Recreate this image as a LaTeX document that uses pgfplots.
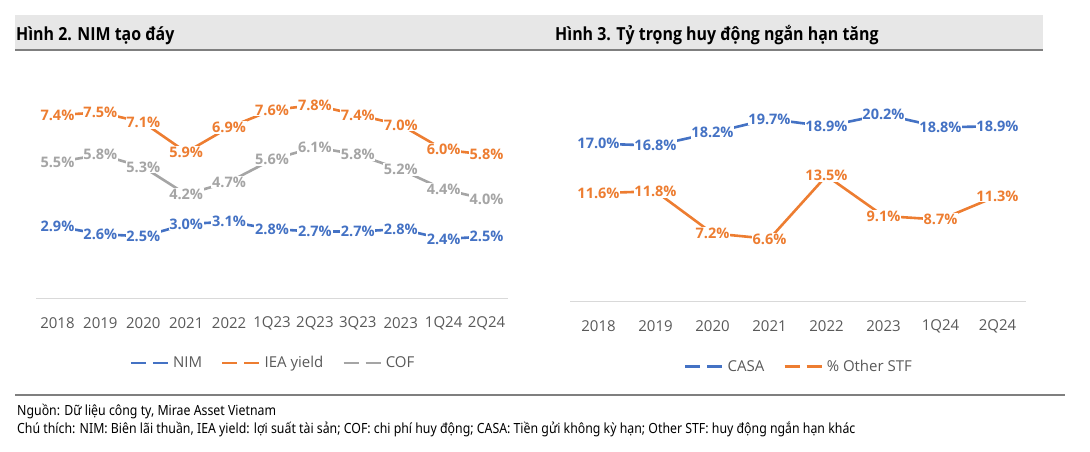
\documentclass[border=0pt]{standalone}
\usepackage{fontspec}
\setmainfont{Open Sans}
\newfontfamily\titlefont[FakeStretch=0.885]{Open Sans}
\newfontfamily\footfont[FakeStretch=0.88]{Noto Sans}
\usepackage{pgfplots}
\usepackage{pgfplotstable}
\pgfplotsset{compat=1.18}

\definecolor{cBlue}{HTML}{4472C4}
\definecolor{cOrange}{HTML}{ED7D31}
\definecolor{cGray}{HTML}{A5A5A5}
\definecolor{tickgray}{HTML}{595959}
\definecolor{axisgray}{HTML}{D9D9D9}
\definecolor{bandgray}{HTML}{E7E7E7}
\definecolor{rulegray}{HTML}{7F7F7F}

\newcommand\ticksize{\fontsize{15bp}{18bp}\selectfont}
\newcommand\labelsize{\fontsize{14.5bp}{17bp}\selectfont}

% left panel: NIM / IEA yield / COF
\pgfplotstableread{
x NIM IEA COF
0 2.9 7.4 5.5
1 2.6 7.5 5.8
2 2.5 7.1 5.3
3 3.0 5.9 4.2
4 3.1 6.9 4.7
5 2.8 7.6 5.6
6 2.7 7.8 6.1
7 2.7 7.4 5.8
8 2.8 7.0 5.2
9 2.4 6.0 4.4
10 2.5 5.8 4.0
}\leftdata

% right panel: CASA / other short-term funding
\pgfplotstableread{
x CASA STF
0 17.0 11.6
1 16.8 11.8
2 18.2 7.2
3 19.7 6.6
4 18.9 13.5
5 20.2 9.1
6 18.8 8.7
7 18.9 11.3
}\rightdata

\pgfplotsset{
  panel/.style={
    scale only axis, anchor=south west, clip=false,
    axis x line=bottom, axis y line=none,
    x axis line style={draw=axisgray, line width=1bp, -},
    xtick=data, major tick length=0pt,
    ytick=\empty,
    xticklabel style={anchor=center, yshift=-24.5bp, inner sep=0pt, font=\ticksize, text=tickgray},
    /pgf/number format/assume math mode=true,
    nodes near coords={\pgfmathprintnumber[fixed,fixed zerofill,precision=1]{\pgfplotspointmeta}\%},
    every node near coord/.append style={anchor=center, fill=white, inner xsep=0.8bp, inner ysep=1bp, font=\labelsize\bfseries},
    legend style={at={(0.5,0)}, anchor=center, yshift=-64.5bp, draw=none, fill=none,
      font=\ticksize, text=tickgray,
      /tikz/every odd column/.append style={column sep=4bp},
      /tikz/every even column/.append style={column sep=19bp},
      nodes={inner sep=0pt}},
    legend columns=-1,
    legend image code/.code={\draw[##1, line width=2.5bp, dash pattern=on 15bp off 7bp] (0bp,0bp) -- (37bp,0bp);},
  },
  ser/.style={draw=#1, line width=2.6bp, mark=none, every node near coord/.append style={text=#1}},
}

\begin{document}
\begin{tikzpicture}
\path[use as bounding box] (0,0) rectangle (1090bp,452bp);

% header band
\fill[bandgray] (15bp,437bp) rectangle (1043bp,402bp);
\draw[rulegray, line width=2bp] (15bp,401.5bp) -- (1043bp,401.5bp);
\node[anchor=base west, inner sep=0pt] at (16bp,411.3bp) {\titlefont\bfseries\fontsize{18bp}{20bp}\selectfont Hình 2. NIM tạo đáy};
\node[anchor=base west, inner sep=0pt] at (555bp,411.3bp) {\titlefont\bfseries\fontsize{18bp}{20bp}\selectfont Hình 3. Tỷ trọng huy động ngắn hạn tăng};

\begin{axis}[panel, at={(36bp,153.5bp)}, width=472bp, height=223.2bp,
  xmin=-0.5, xmax=10.5, ymin=0, ymax=9,
  xticklabels={2018,2019,2020,2021,2022,1Q23,2Q23,3Q23,2023,1Q24,2Q24}]
\addplot[ser=cBlue] table[x=x, y=NIM] {\leftdata};
\addlegendentry{NIM}
\addplot[ser=cOrange] table[x=x, y=IEA] {\leftdata};
\addlegendentry{IEA yield}
\addplot[ser=cGray] table[x=x, y=COF] {\leftdata};
\addlegendentry{COF}
\end{axis}

\begin{axis}[panel, at={(570bp,150bp)}, width=456bp, height=231.5bp,
  xmin=-0.5, xmax=7.5, ymin=-0.3, ymax=25,
  xticklabels={2018,2019,2020,2021,2022,2023,1Q24,2Q24}]
\addplot[ser=cBlue] table[x=x, y=CASA] {\rightdata};
\addlegendentry{CASA}
\addplot[ser=cOrange] table[x=x, y=STF] {\rightdata};
\addlegendentry{\% Other STF}
\end{axis}

% source and notes
\draw[rulegray, line width=1.2bp] (15bp,57bp) -- (1065bp,57bp);
\node[anchor=base west, inner sep=0pt] at (17bp,37bp) {\footfont\fontsize{14bp}{16bp}\selectfont Nguồn: Dữ liệu công ty, Mirae Asset Vietnam};
\node[anchor=base west, inner sep=0pt] at (17bp,19bp) {\footfont\fontsize{14bp}{16bp}\selectfont Chú thích: NIM: Biên lãi thuần, IEA yield: lợi suất tài sản; COF: chi phí huy động; CASA: Tiền gửi không kỳ hạn; Other STF: huy động ngắn hạn khác};
\end{tikzpicture}
\end{document}
